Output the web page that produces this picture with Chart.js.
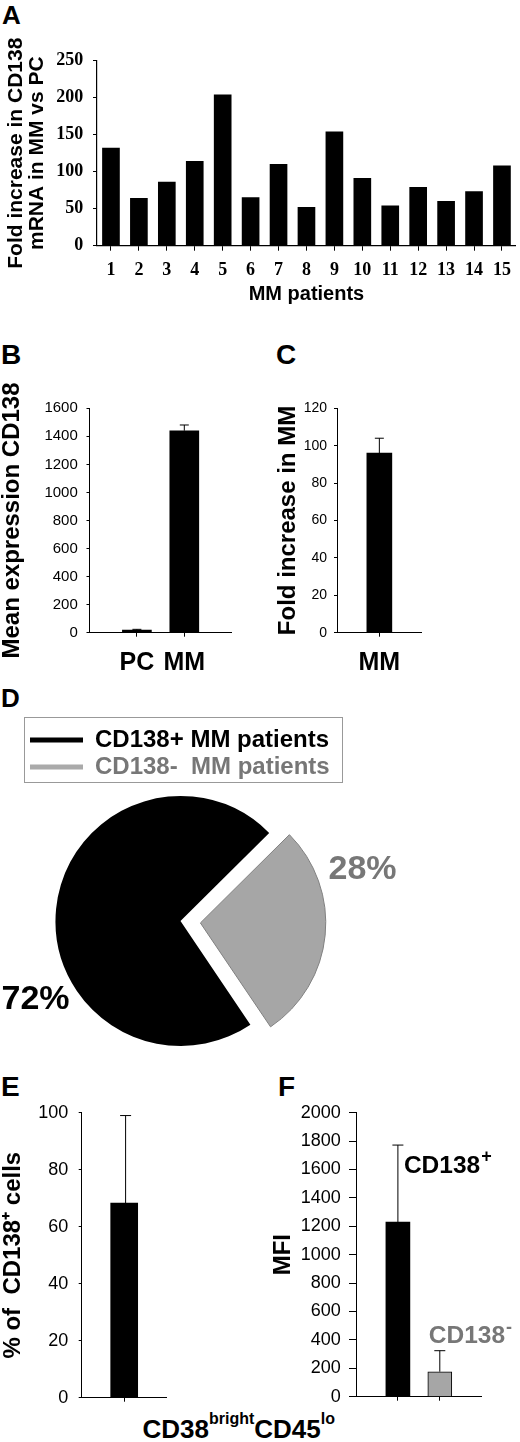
<!DOCTYPE html>
<html>
<head>
<meta charset="utf-8">
<script src="https://cdn.jsdelivr.net/npm/chart.js@4.4.1/dist/chart.umd.min.js"></script>
<style>
html,body{margin:0;padding:0;background:#fff;}
body{position:relative;width:520px;height:1442px;overflow:hidden;font-family:'Liberation Sans',Arial,Helvetica,sans-serif;}
canvas{position:absolute;}
.lbl{position:absolute;font-weight:bold;color:#000;line-height:1;white-space:nowrap;}
.sup{position:relative;font-size:16px;top:-14px;}
</style>
</head>
<body>
<div class="lbl" style="left:2px;top:1.6px;font-size:26px">A</div>
<div class="lbl" style="left:1px;top:341.3px;font-size:28px">B</div>
<div class="lbl" style="left:276px;top:341.3px;font-size:28px">C</div>
<div class="lbl" style="left:1px;top:684.9px;font-size:26px">D</div>
<div class="lbl" style="left:1px;top:1073px;font-size:28px">E</div>
<div class="lbl" style="left:278px;top:1073px;font-size:28px">F</div>
<div class="lbl" style="left:142.5px;top:1415.7px;font-size:26px">CD38<span class="sup">bright</span>CD45<span class="sup">lo</span></div>

<canvas id="cA" width="520" height="306" style="left:0;top:0"></canvas>
<canvas id="cB" width="260" height="350" style="left:0;top:330px"></canvas>
<canvas id="cC" width="260" height="350" style="left:260px;top:330px"></canvas>
<canvas id="cD" width="520" height="341" style="left:0;top:712px"></canvas>
<canvas id="cE" width="260" height="360" style="left:0;top:1060px"></canvas>
<canvas id="cF" width="260" height="360" style="left:260px;top:1060px"></canvas>

<script>
// ---------------- DATA ----------------
// Panel A
const patients = ['1','2','3','4','5','6','7','8','9','10','11','12','13','14','15'];
const foldIncrease = [132, 64, 86, 114, 204, 65, 110, 52, 154, 91, 54, 79, 60, 73, 108];
const aTickMax = 250, aTickStep = 50;
// Panel B
const bCategories = ['PC', 'MM'];
const bMeans = [18, 1440];
const bErrors = [6, 41];
const bTickMax = 1600, bTickStep = 200;
// Panel C
const cCategories = ['MM'];
const cFold = [96];
const cErrors = [8];
const cTickMax = 120, cTickStep = 20;
// Panel D
const dLabels = ['CD138+ MM patients', 'CD138-  MM patients'];
const dPercent = [72, 28];
// Panel E
const eCategories = ['CD38brightCD45lo'];
const ePercent = [68.3];
const eErrors = [30.7];
const eTickMax = 100, eTickStep = 20;
// Panel F
const fCategories = ['CD138+', 'CD138-'];
const fMFI = [1230, 176];
const fErrors = [542, 148];
const fTickMax = 2000, fTickStep = 200;

// ---------------- STYLE ----------------
const SANS = "'Liberation Sans', Arial, Helvetica, sans-serif";
const SERIF = "'Liberation Serif', 'Times New Roman', Times, serif";
const GREY_FILL = '#a6a6a6';
const GREY_TEXT = '#777777';

Chart.defaults.animation = false;
Chart.defaults.color = '#000';
Chart.defaults.font.family = SANS;
Chart.defaults.plugins.legend.display = false;
Chart.defaults.plugins.tooltip.enabled = false;
Chart.defaults.events = [];

const plain = v => String(v);

// ---------------- PLUGINS ----------------
const errorBars = {
  id: 'errorBars',
  afterDatasetsDraw(chart, args, o) {
    if (!o || !o.errors) return;
    const ctx = chart.ctx;
    const meta = chart.getDatasetMeta(0);
    const ys = chart.scales[meta.yAxisID];
    const ds = chart.data.datasets[0];
    meta.data.forEach((bar, i) => {
      const e = o.errors[i];
      if (e == null) return;
      const raw = ds.data[i];
      const v = typeof raw === 'object' ? raw.y : raw;
      const top = ys.getPixelForValue(v + e);
      const x = bar.x + (o.dx || 0);
      ctx.save();
      ctx.strokeStyle = o.color || '#000';
      ctx.lineWidth = o.lineWidth || 1;
      ctx.beginPath();
      ctx.moveTo(x, bar.y);
      ctx.lineTo(x, top);
      ctx.moveTo(x - o.cap / 2, top);
      ctx.lineTo(x + o.cap / 2, top);
      ctx.stroke();
      ctx.restore();
    });
  }
};

const barNotes = {
  id: 'barNotes',
  afterDatasetsDraw(chart, args, o) {
    if (!o || !o.labels) return;
    const ctx = chart.ctx;
    const meta = chart.getDatasetMeta(0);
    const ys = chart.scales[meta.yAxisID];
    const ds = chart.data.datasets[0];
    meta.data.forEach((bar, i) => {
      const raw = ds.data[i];
      const v = typeof raw === 'object' ? raw.y : raw;
      const top = ys.getPixelForValue(v + (o.errors ? o.errors[i] : 0));
      const txt = o.labels[i];
      const main = txt.slice(0, -1), sup = txt.slice(-1);
      const x = bar.x + o.offsets[i][0], y = top + o.offsets[i][1];
      ctx.save();
      ctx.fillStyle = o.colors[i];
      ctx.textAlign = 'left';
      ctx.textBaseline = 'middle';
      ctx.font = `bold ${o.size}px ${SANS}`;
      ctx.fillText(main, x, y);
      const w = ctx.measureText(main).width;
      ctx.font = `bold ${o.supSize}px ${SANS}`;
      ctx.fillText(sup, x + w + 1, y - o.supRise);
      ctx.restore();
    });
  }
};

const legendFrame = {
  id: 'legendFrame',
  afterDraw(chart, args, o) {
    const lg = chart.legend;
    if (!lg || !lg.legendHitBoxes || !lg.legendHitBoxes.length) return;
    const hb = lg.legendHitBoxes;
    const l = Math.min(...hb.map(h => h.left)) - o.padL;
    const r = Math.max(...hb.map(h => h.left + h.width)) + o.padR;
    const t = Math.min(...hb.map(h => h.top)) - o.padT;
    const b = Math.max(...hb.map(h => h.top + h.height)) + o.padB;
    const ctx = chart.ctx;
    ctx.save();
    ctx.strokeStyle = o.color;
    ctx.lineWidth = 1;
    ctx.strokeRect(Math.round(l) + 0.5, Math.round(t) + 0.5, Math.round(r - l), Math.round(b - t));
    ctx.restore();
  }
};

const sliceLabels = {
  id: 'sliceLabels',
  afterDraw(chart, args, o) {
    const meta = chart.getDatasetMeta(0);
    const arc = meta.data[0];
    if (!arc) return;
    const ctx = chart.ctx;
    ctx.save();
    ctx.textAlign = 'center';
    ctx.textBaseline = 'middle';
    ctx.font = `bold ${o.size}px ${SANS}`;
    dPercent.forEach((v, i) => {
      ctx.fillStyle = o.colors[i];
      ctx.fillText(v + '%', arc.x + o.offsets[i][0], arc.y + o.offsets[i][1]);
    });
    ctx.restore();
  }
};

// ---------------- HELPERS ----------------
function frame(rect, area) {
  return {
    padding: { top: area.top - rect.top, right: rect.left + rect.width - area.right, bottom: 0, left: 0 },
    yFit: s => { s.width = area.left - rect.left; },
    xFit: s => { s.height = rect.top + rect.height - area.bottom; }
  };
}

function yAxis(fr, o) {
  return {
    min: 0, max: o.max,
    afterFit: fr.yFit,
    border: { display: true, color: '#000', width: 1 },
    grid: { display: true, drawOnChartArea: false, drawTicks: true, tickLength: o.tl, color: '#000', lineWidth: 1 },
    ticks: { stepSize: o.step, padding: o.pad, font: o.font, color: '#000', callback: plain },
    title: {
      display: true, text: o.title, color: '#000',
      font: { family: SANS, weight: 'bold', size: o.titleSize, lineHeight: 1 },
      padding: { top: o.titlePad, bottom: 0 }
    }
  };
}

function xLinear(fr, o) {
  return {
    type: 'linear', min: o.min, max: o.max, offset: false,
    afterFit: fr.xFit,
    afterBuildTicks: s => { s.ticks = o.cats.map((c, i) => ({ value: i })); },
    border: { display: true, color: '#000', width: 1 },
    grid: { display: true, offset: false, drawOnChartArea: false, drawTicks: true, tickLength: o.tl, color: '#000', lineWidth: 1 },
    ticks: {
      display: o.showLabels, autoSkip: false, maxRotation: 0, minRotation: 0,
      padding: o.pad || 0, font: o.font, color: '#000',
      callback: v => (o.cats[v] !== undefined ? o.cats[v] : '')
    }
  };
}

// ---------------- PANEL A ----------------
(function () {
  const fr = frame({ left: 0, top: 0, width: 520, height: 306 }, { left: 97, top: 60.7, right: 519, bottom: 245.7 });
  new Chart(document.getElementById('cA'), {
    type: 'bar',
    data: { labels: patients, datasets: [{ data: foldIncrease, backgroundColor: '#000', barThickness: 17 }] },
    options: {
      responsive: false,
      layout: { padding: fr.padding },
      scales: {
        x: {
          type: 'category', offset: true, afterFit: fr.xFit,
          border: { display: true, color: '#000', width: 1.2 },
          grid: { display: true, offset: false, drawOnChartArea: false, drawTicks: true, tickLength: 5, color: '#000' },
          ticks: { font: { family: SERIF, weight: 'bold', size: 18 }, padding: 9, maxRotation: 0, minRotation: 0, autoSkip: false, color: '#000' },
          title: { display: true, text: 'MM patients', color: '#000', font: { family: SANS, weight: 'bold', size: 20 }, padding: 0 }
        },
        y: {
          min: 0, max: aTickMax, afterFit: fr.yFit,
          border: { display: true, color: '#000', width: 1.2 },
          grid: { display: true, drawOnChartArea: false, drawTicks: true, tickLength: 4, color: '#000' },
          ticks: { stepSize: aTickStep, padding: 9.7, font: { family: SERIF, weight: 'bold', size: 18 }, color: '#000', callback: plain },
          title: {
            display: true, text: ['Fold increase in CD138', 'mRNA in MM vs PC'], color: '#000',
            font: { family: SANS, weight: 'bold', size: 21, lineHeight: 1 },
            padding: { top: 5.3, bottom: 0 }
          }
        }
      }
    }
  });
})();

// ---------------- PANEL B ----------------
(function () {
  const fr = frame({ left: 0, top: 330, width: 260, height: 350 }, { left: 89.5, top: 408.3, right: 231.7, bottom: 632.7 });
  new Chart(document.getElementById('cB'), {
    type: 'bar',
    data: { datasets: [{ data: bMeans.map((v, i) => ({ x: i, y: v })), backgroundColor: '#000', barThickness: 29 }] },
    plugins: [errorBars],
    options: {
      responsive: false,
      layout: { padding: fr.padding },
      plugins: { errorBars: { errors: bErrors, cap: 9 } },
      scales: {
        x: xLinear(fr, { min: -1, max: 2, cats: bCategories, tl: 4, pad: 11.3, showLabels: true, font: { family: SANS, weight: 'bold', size: 25 } }),
        y: yAxis(fr, { max: bTickMax, step: bTickStep, tl: 3, pad: 8.7, font: { family: SANS, size: 15 }, title: 'Mean expression CD138', titleSize: 24, titlePad: 0 })
      }
    }
  });
})();

// ---------------- PANEL C ----------------
(function () {
  const fr = frame({ left: 260, top: 330, width: 260, height: 350 }, { left: 337, top: 408.3, right: 421.7, bottom: 632.7 });
  new Chart(document.getElementById('cC'), {
    type: 'bar',
    data: { datasets: [{ data: cFold.map((v, i) => ({ x: i, y: v })), backgroundColor: '#000', barThickness: 25 }] },
    plugins: [errorBars],
    options: {
      responsive: false,
      layout: { padding: fr.padding },
      plugins: { errorBars: { errors: cErrors, cap: 9 } },
      scales: {
        x: xLinear(fr, { min: -1, max: 1, cats: cCategories, tl: 4, pad: 11.3, showLabels: true, font: { family: SANS, weight: 'bold', size: 25 } }),
        y: yAxis(fr, { max: cTickMax, step: cTickStep, tl: 3, pad: 7, font: { family: SANS, size: 14 }, title: 'Fold increase in MM', titleSize: 24, titlePad: 16 })
      }
    }
  });
})();

// ---------------- PANEL D ----------------
(function () {
  const sliceColors = ['#000000', GREY_FILL];
  const legendLineColors = ['#000000', '#aaaaaa'];
  const legendTextColors = ['#000000', GREY_TEXT];
  new Chart(document.getElementById('cD'), {
    type: 'pie',
    data: {
      labels: dLabels,
      datasets: [{
        data: dPercent,
        backgroundColor: sliceColors,
        borderColor: ['#000000', '#808080'],
        borderWidth: [0, 1],
        offset: [0, 80]
      }]
    },
    plugins: [legendFrame, sliceLabels],
    options: {
      responsive: false,
      rotation: 146,
      radius: 125,
      layout: { padding: { top: 13, left: 27, right: 186, bottom: 0 } },
      plugins: {
        legend: {
          display: true, position: 'top', align: 'start',
          labels: {
            usePointStyle: true, pointStyleWidth: 53, padding: 3,
            font: { family: SANS, weight: 'bold', size: 24 },
            generateLabels: () => dLabels.map((t, i) => ({
              text: t, fillStyle: legendLineColors[i], strokeStyle: legendLineColors[i],
              lineWidth: 5, pointStyle: 'line', fontColor: legendTextColors[i], hidden: false, index: i
            }))
          }
        },
        legendFrame: { padL: 6, padR: 12, padT: 11, padB: 3, color: '#999999' },
        sliceLabels: { size: 34, colors: ['#000000', GREY_TEXT], offsets: [[-145, 79], [182, -51]] }
      }
    }
  });
})();

// ---------------- PANEL E ----------------
(function () {
  const fr = frame({ left: 0, top: 1060, width: 260, height: 360 }, { left: 81.7, top: 1112.7, right: 166.7, bottom: 1397.7 });
  new Chart(document.getElementById('cE'), {
    type: 'bar',
    data: { datasets: [{ data: ePercent.map((v, i) => ({ x: i, y: v })), backgroundColor: '#000', barThickness: 27 }] },
    plugins: [errorBars],
    options: {
      responsive: false,
      layout: { padding: fr.padding },
      plugins: { errorBars: { errors: eErrors, cap: 11, dx: 1.4 } },
      scales: {
        x: xLinear(fr, { min: -1, max: 1, cats: eCategories, tl: 4, showLabels: false, font: { size: 12 } }),
        y: yAxis(fr, { max: eTickMax, step: eTickStep, tl: 3, pad: 10.4, font: { family: SANS, size: 18 }, title: '% of  CD138\u207A cells', titleSize: 24, titlePad: 1 })
      }
    }
  });
})();

// ---------------- PANEL F ----------------
(function () {
  const fr = frame({ left: 260, top: 1060, width: 260, height: 360 }, { left: 356, top: 1112.7, right: 481.7, bottom: 1396.7 });
  new Chart(document.getElementById('cF'), {
    type: 'bar',
    data: {
      datasets: [{
        data: fMFI.map((v, i) => ({ x: i, y: v })),
        backgroundColor: ['#000000', GREY_FILL],
        borderColor: '#000000',
        borderWidth: [0, 1],
        barThickness: 24
      }]
    },
    plugins: [errorBars, barNotes],
    options: {
      responsive: false,
      layout: { padding: fr.padding },
      plugins: {
        errorBars: { errors: fErrors, cap: 11 },
        barNotes: { labels: fCategories, errors: fErrors, colors: ['#000000', GREY_TEXT], size: 24.5, supSize: 18, supRise: 9, offsets: [[6, 21], [-11, -14]] }
      },
      scales: {
        x: xLinear(fr, { min: -1, max: 2, cats: fCategories, tl: 4, showLabels: false, font: { size: 12 } }),
        y: yAxis(fr, { max: fTickMax, step: fTickStep, tl: 7, pad: 8.3, font: { family: SANS, size: 18 }, title: 'MFI', titleSize: 24, titlePad: 11 })
      }
    }
  });
})();
</script>
</body>
</html>
